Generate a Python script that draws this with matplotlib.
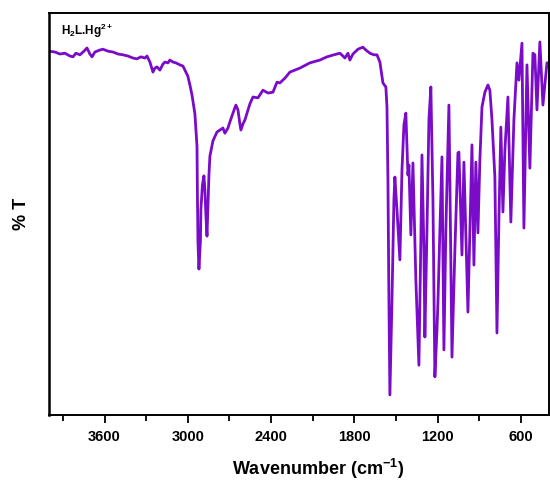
import numpy as np
import matplotlib
matplotlib.use("Agg")
import matplotlib.pyplot as plt
from matplotlib.ticker import MultipleLocator

plt.rcParams['font.family'] = ['Liberation Sans', 'DejaVu Sans']
plt.rcParams['mathtext.fontset'] = 'custom'
plt.rcParams['mathtext.rm'] = 'Liberation Sans:bold'
plt.rcParams['mathtext.bf'] = 'Liberation Sans:bold'

# IR spectrum: wavenumber (cm-1) and transmittance (arb. %)
wavenumber = [
    4000, 3957, 3921, 3885, 3849, 3827, 3806, 3777, 3748, 3726, 3705, 3690, 3669,
    3633, 3611, 3575, 3539, 3503, 3467, 3431, 3395, 3366, 3338, 3309, 3294, 3273,
    3251, 3237, 3222, 3201, 3179, 3165, 3143, 3129, 3107, 3086, 3057, 3035, 3021,
    3000, 2985, 2970, 2949, 2934, 2931, 2927, 2920, 2909, 2906, 2895, 2884, 2877,
    2870, 2862, 2855, 2848, 2841, 2819, 2790, 2769, 2747, 2733, 2711, 2697, 2675,
    2654, 2639, 2625, 2618, 2603, 2589, 2553, 2531, 2495, 2459, 2423, 2387, 2358,
    2337, 2301, 2265, 2193, 2121, 2049, 1998, 1948, 1905, 1883, 1869, 1847, 1833,
    1811, 1775, 1739, 1718, 1689, 1660, 1638, 1617, 1595, 1574, 1566, 1559, 1552,
    1545, 1530, 1516, 1509, 1494, 1473, 1458, 1444, 1430, 1415, 1408, 1394, 1379,
    1358, 1336, 1322, 1314, 1300, 1293, 1278, 1264, 1250, 1235, 1221, 1206, 1199,
    1185, 1170, 1156, 1142, 1120, 1113, 1098, 1077, 1055, 1048, 1026, 1012, 983,
    954, 940, 926, 911, 897, 882, 861, 839, 825, 810, 789, 774, 760, 746, 731,
    717, 695, 674, 652, 630, 616, 594, 580, 558, 537, 515, 501, 486, 465, 443,
    414, 400]
transmittance = [
    90.5, 90.3, 89.8, 90.0, 89.3, 89.1, 90.0, 89.6, 90.5, 91.3, 89.8, 89.1, 90.3,
    90.8, 91.0, 90.5, 90.3, 89.8, 89.6, 89.3, 88.8, 88.6, 89.1, 88.8, 89.3, 87.8,
    85.3, 86.3, 86.6, 85.8, 87.3, 87.8, 87.6, 88.3, 87.8, 87.6, 87.1, 86.8, 85.8,
    84.3, 82.1, 79.6, 74.9, 66.9, 55.0, 43.0, 36.3, 43.5, 51.0, 57.2, 59.5, 56.0,
    49.8, 44.5, 52.2, 59.7, 64.4, 68.2, 70.4, 70.9, 71.4, 70.1, 71.4, 72.9, 75.1,
    77.1, 75.9, 72.4, 70.9, 72.4, 73.4, 77.4, 79.1, 78.9, 80.8, 80.1, 80.3, 82.8,
    82.6, 83.8, 85.3, 86.3, 87.6, 88.3, 89.1, 89.6, 90.0, 89.3, 88.8, 90.0, 88.3,
    89.8, 91.0, 91.5, 90.8, 90.0, 89.6, 89.6, 87.8, 82.6, 81.6, 76.6, 58.5, 28.6,
    5.0, 28.6, 53.5, 59.2, 51.0, 38.6, 60.9, 72.1, 75.1, 59.7, 62.2, 44.8, 62.7,
    33.6, 12.4, 43.5, 64.7, 41.0, 19.4, 46.0, 73.4, 81.6, 53.5, 9.5, 21.1, 27.9,
    46.0, 64.2, 16.2, 46.0, 77.1, 58.5, 14.4, 41.0, 65.2, 65.4, 39.8, 62.9, 25.6,
    67.2, 37.3, 62.9, 45.3, 63.4, 76.6, 80.3, 82.1, 80.8, 73.4, 59.2, 20.4, 48.5,
    71.6, 50.5, 65.9, 79.1, 48.0, 73.4, 87.6, 83.3, 92.5, 46.5, 87.1, 61.4, 90.0,
    89.6, 75.9, 92.8, 77.1, 87.6, 87.6]

fig = plt.figure(figsize=(5.5, 4.82), dpi=100)
ax = fig.add_axes([0.089, 0.139, 0.909, 0.834])

ax.plot(wavenumber, transmittance, color='#7a0bc9', lw=2.0)

ax.set_xlim(4000, 400)
ax.set_ylim(0, 100)
ax.xaxis.set_minor_locator(MultipleLocator(300))
ax.set_xticks([3600, 3000, 2400, 1800, 1200, 600])
ax.tick_params(axis='x', which='major', direction='out', length=6, width=1.3,
               labelsize=10.5, pad=5)
ax.tick_params(axis='x', which='minor', direction='out', length=4, width=1.3)
ax.set_yticks([])
for lbl in ax.get_xticklabels():
    lbl.set_fontweight('bold')
for s in ax.spines.values():
    s.set_linewidth(1.4)
ax.spines['left'].set_linewidth(1.8)

ax.set_xlabel(r'Wavenumber (cm$^{-1}$)', fontsize=13, fontweight='bold')
ax.xaxis.set_label_coords(0.538, -0.105)
ax.set_ylabel('% T', fontsize=13, fontweight='bold', labelpad=14)
ax.text(0.025, 0.978, r'H$_2$L.Hg$^{2+}$', transform=ax.transAxes,
        fontsize=8.5, fontweight='bold', va='top', ha='left')

fig.savefig('out.png', dpi=100)
